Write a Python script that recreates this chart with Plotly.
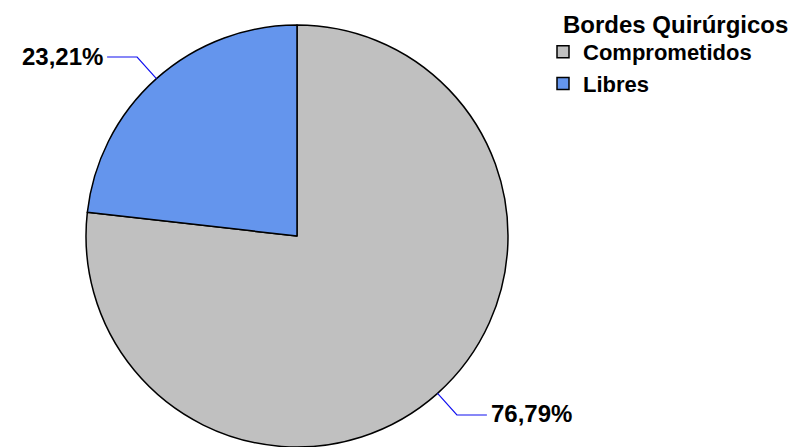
import math
import plotly.graph_objects as go

# ---- data ----
categories = ["Comprometidos", "Libres"]
percentages = [76.79, 23.21]
colors = ["#C0C0C0", "#6495ED"]
legend_title = "Bordes Quirúrgicos"

W, H = 800, 447
# pie geometry (pixels)
CX, CY, R = 297, 236, 211
LEAD_RADIAL = 29
LEAD_HORIZ = 30
FONT = "Liberation Sans, Arial, sans-serif"


def px_to_paper(x, y):
    return x / W, 1 - y / H


fig = go.Figure()
fig.add_trace(go.Pie(
    labels=categories,
    values=percentages,
    marker=dict(colors=colors, line=dict(color="black", width=1.5)),
    sort=False,
    direction="clockwise",
    rotation=0,
    textinfo="none",
    hoverinfo="label+percent",
    domain=dict(x=[(CX - R) / W, (CX + R) / W], y=[0, 1 - (CY - R) / H]),
))

# leader lines and labels, computed from the data
total = sum(percentages)
start = 90.0
shapes = []
annotations = []
for cat, v in zip(categories, percentages):
    span = v / total * 360.0
    mid = math.radians(start - span / 2)
    start -= span
    c, s = math.cos(mid), math.sin(mid)
    ex, ey = CX + R * c, CY - R * s
    bx, by = ex + LEAD_RADIAL * c, ey - LEAD_RADIAL * s
    sign = 1 if c >= 0 else -1
    hx, hy = bx + sign * LEAD_HORIZ, by
    p1 = px_to_paper(ex, ey)
    p2 = px_to_paper(bx, by)
    p3 = px_to_paper(hx, hy)
    shapes.append(dict(
        type="path", xref="paper", yref="paper",
        path=f"M {p1[0]},{p1[1]} L {p2[0]},{p2[1]} L {p3[0]},{p3[1]}",
        line=dict(color="#1010F0", width=1.2),
    ))
    tx, ty = px_to_paper(hx + sign * 2, hy - 1)
    annotations.append(dict(
        x=tx, y=ty, xref="paper", yref="paper",
        text=f"<b>{v:.2f}%</b>".replace(".", ","),
        showarrow=False,
        xanchor="left" if sign > 0 else "right",
        yanchor="middle",
        font=dict(family=FONT, size=24, color="black"),
    ))

# legend title as annotation
tx, ty = px_to_paper(561, 25)
annotations.append(dict(
    x=tx, y=ty, xref="paper", yref="paper",
    text=f"<b>{legend_title}</b>", showarrow=False,
    xanchor="left", yanchor="middle",
    font=dict(family=FONT, size=24, color="black"),
))

lx, ly = px_to_paper(543, 31)
fig.update_layout(
    width=W, height=H,
    margin=dict(l=0, r=0, t=0, b=0),
    paper_bgcolor="white",
    plot_bgcolor="white",
    showlegend=True,
    legend=dict(
        x=lx, y=ly, xanchor="left", yanchor="top",
        font=dict(family=FONT, size=22, color="black", weight="bold"),
        bgcolor="rgba(0,0,0,0)",
        tracegroupgap=0,
    ),
    shapes=shapes,
    annotations=annotations,
)

fig.write_html("out.html")
